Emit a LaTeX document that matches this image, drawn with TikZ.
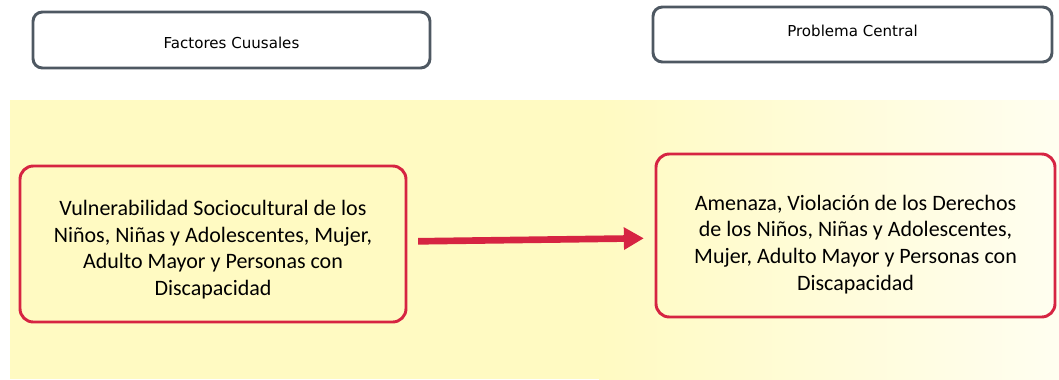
\documentclass[tikz,border=0pt]{standalone}
\usepackage{fontspec}
\setmainfont{Carlito}
\newfontfamily\labelfont{DejaVu Sans}
\usetikzlibrary{arrows.meta}
\definecolor{framegray}{RGB}{78,88,98}
\definecolor{framered}{RGB}{214,36,66}
\definecolor{bandyellow}{RGB}{255,250,194}
\definecolor{bandpale}{RGB}{255,254,240}

\begin{document}
\begin{tikzpicture}[x=0.75pt, y=-0.75pt,
    headbox/.style={draw=framegray, line width=2.2pt, rounded corners=7pt, inner sep=0pt,
      font=\labelfont\fontsize{11.3}{13}\selectfont},
    causebox/.style={draw=framered, line width=2.2pt, rounded corners=10pt, inner sep=0pt,
      font=\fontsize{16.5}{20}\selectfont},
    redarrow/.style={framered, line width=5pt, -{Triangle[length=15pt, width=16pt]},
      shorten <=8pt, shorten >=8pt}]
  \useasboundingbox (0,0) rectangle (1059,379);
  % fondo amarillo
  \fill[bandyellow] (10,100) rectangle (600,379);
  \shade[left color=bandyellow, right color=bandpale] (599,100) rectangle (1059,379);

  \node (causas) [headbox, minimum width=297.75pt, minimum height=42pt] at (231.5,40)
    {\raisebox{-2.5pt}[\height][\depth]{Factores Cuusales}\hspace{12pt}};
  \node (problema) [headbox, minimum width=299.25pt, minimum height=41.25pt] at (852.5,34.5)
    {\raisebox{3pt}[\height][\depth]{Problema Central}};

  \node (vulnera) [causebox, minimum width=289.5pt, minimum height=117pt] at (213,244)
    {\raisebox{-4.5pt}[\height][\depth]{\begin{tabular}{@{}c@{}}
      Vulnerabilidad Sociocultural de los\\Niños, Niñas y Adolescentes, Mujer,\\
      Adulto Mayor y Personas con\\Discapacidad\end{tabular}}};
  \node (amenaza) [causebox, minimum width=299.25pt, minimum height=122.25pt] at (855.5,235.5)
    {\raisebox{-7pt}[\height][\depth]{\begin{tabular}{@{}c@{}}
      Amenaza, Violación de los Derechos\\de los Niños, Niñas y Adolescentes,\\
      Mujer, Adulto Mayor y Personas con\\Discapacidad\end{tabular}}};

  \draw[redarrow] (vulnera) -- (amenaza);
\end{tikzpicture}
\end{document}
